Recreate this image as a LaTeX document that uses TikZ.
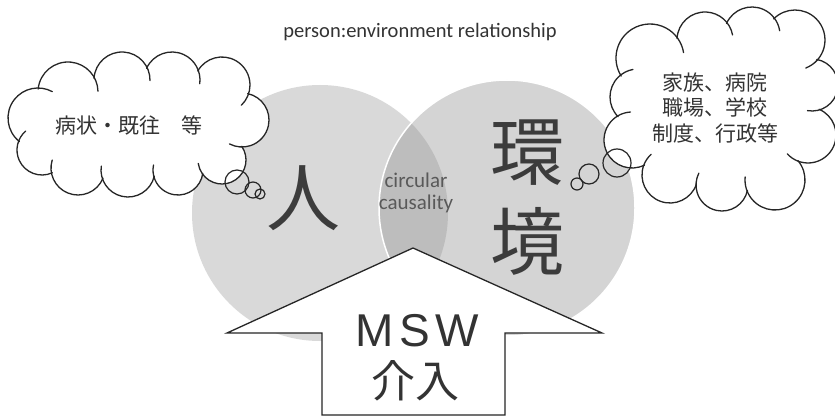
\documentclass[tikz,border=0pt]{standalone}
\usepackage{fontspec}
\setmainfont{Carlito}
\newfontfamily\jpfont{Noto Sans CJK JP}
\newfontfamily\mswfont{Liberation Sans}[LetterSpace=12]
\definecolor{inkgray}{HTML}{333333}
\definecolor{bigchar}{HTML}{3C3C3C}
\definecolor{circL}{HTML}{D9D9D9}
\definecolor{circR}{HTML}{D4D4D4}
\definecolor{lens}{HTML}{BDBDBD}
\tikzset{
  cloudline/.style={draw=black!85, line width=1.3pt, line cap=round},
  bubble/.style={draw=black!85, line width=1.2pt},
  cloudtext/.style={font=\jpfont\fontsize{21}{25.5}\selectfont, text=inkgray, align=center},
  bigtext/.style={font=\jpfont\fontsize{74}{80}\selectfont, text=bigchar, inner sep=0pt},
}
\def\ovS{2}\def\ovE{28}
\newcommand\puffarc[9]{%
  \pgfmathsetmacro\cldP{veclen(#4-#1,#5-#2)}%
  \pgfmathsetmacro\clphP{atan2(#5-#2,#4-#1)}%
  \pgfmathsetmacro\clgP{acos(max(-1,min(1,(\cldP*\cldP+#3*#3-#6*#6)/(2*\cldP*#3))))}%
  \pgfmathsetmacro\cldN{veclen(#7-#1,#8-#2)}%
  \pgfmathsetmacro\clphN{atan2(#8-#2,#7-#1)}%
  \pgfmathsetmacro\clgN{acos(max(-1,min(1,(\cldN*\cldN+#3*#3-#9*#9)/(2*\cldN*#3))))}%
  \pgfmathsetmacro\clsA{\clphP+\clgP-\ovS}%
  \pgfmathsetmacro\cleA{\clphN-\clgN+\ovE}%
  \pgfmathsetmacro\cleA{\cleA<\clsA ? \cleA+360 : \cleA}%
  \draw[cloudline] (#1,#2) ++(\clsA:#3) arc[start angle=\clsA, end angle=\cleA, radius=#3];%
}
\newcommand\cloudfill[6]{%
  \foreach \k in {1,...,#4}{%
    \pgfmathtruncatemacro\clkn{mod(\k,#4)}%
    \pgfmathsetmacro\clax{#1[\k-1]}\pgfmathsetmacro\clay{#2[\k-1]}\pgfmathsetmacro\clar{#3[\k-1]}%
    \pgfmathsetmacro\clbx{#1[\clkn]}\pgfmathsetmacro\clby{#2[\clkn]}%
    \fill[white] (\clax,\clay) circle[radius=\clar];
    \fill[white] (#5,#6) -- (\clax,\clay) -- (\clbx,\clby) -- cycle;
  }}
\newcommand\cloudlines[4]{%
  \foreach \k in {1,...,#4}{%
    \pgfmathtruncatemacro\clkp{mod(\k-2+#4,#4)}%
    \pgfmathtruncatemacro\clkn{mod(\k,#4)}%
    \pgfmathsetmacro\clax{#1[\k-1]}\pgfmathsetmacro\clay{#2[\k-1]}\pgfmathsetmacro\clar{#3[\k-1]}%
    \pgfmathsetmacro\clpx{#1[\clkp]}\pgfmathsetmacro\clpy{#2[\clkp]}\pgfmathsetmacro\clpr{#3[\clkp]}%
    \pgfmathsetmacro\clnx{#1[\clkn]}\pgfmathsetmacro\clny{#2[\clkn]}\pgfmathsetmacro\clnr{#3[\clkn]}%
    \puffarc{\clax}{\clay}{\clar}{\clpx}{\clpy}{\clpr}{\clnx}{\clny}{\clnr}%
  }}
% left cloud puffs (screen clockwise)
\def\LX{{68,122,172,222,242,222,178,128,78,42,38}}
\def\LY{{92,80,80,85,120,160,170,170,168,150,118}}
\def\LR{{30,28,28,28,27,24,25,27,27,25,30}}
% right cloud puffs
\def\RX{{650,705,752,795,812,808,775,722,670,632,638}}
\def\RY{{58,40,35,40,85,135,180,185,175,140,97}}
\def\RR{{34,28,28,30,26,28,30,26,28,28,28}}
\begin{document}
\begin{tikzpicture}[x=1pt,y=-1pt]
\path[use as bounding box, fill=white] (0,0) rectangle (835,417);
% circles
\fill[circL] (320,213) circle[radius=128];
\fill[circR] (507,208) circle[radius=128];
\begin{scope}
  \clip (320,213) circle[radius=128];
  \fill[lens] (507,208) circle[radius=128];
\end{scope}
\draw[white, line width=1.5pt] (507,208) circle[radius=128];
% title
\node[font=\fontsize{20.5}{24}\selectfont, text=inkgray] (title) at (420,32) {person:environment relationship};
% clouds
\cloudfill{\LX}{\LY}{\LR}{11}{139}{125}
\cloudlines{\LX}{\LY}{\LR}{11}
\cloudfill{\RX}{\RY}{\RR}{11}{722}{110}
\cloudlines{\RX}{\RY}{\RR}{11}
\node[cloudtext] (tL) at (129,125) {病状・既往　等};
\node[cloudtext] (tR) at (715,108) {家族、病院\\職場、学校\\制度、行政等};
% bubbles left
\draw[bubble] (237,182) circle[radius=12];
\draw[bubble] (253,190) circle[radius=8];
\draw[bubble] (260,194) circle[radius=5];
% bubbles right
\draw[bubble] (617,163) circle[radius=14];
\draw[bubble] (589,174) circle[radius=10];
\draw[bubble] (577,184) circle[radius=6];
% big characters
\node[bigtext] (hito) at (303,198) {人};
\node[bigtext] (kan) at (527,153) {環};
\node[bigtext] (kyo) at (527,241) {境};
\node[font=\fontsize{21}{24}\selectfont, text=black!65, align=center] (circ) at (416,193) {circular\\[-2pt]causality};
% arrow
\draw[black!85, fill=white, line width=1.3pt, line join=miter]
  (413,248) -- (227,333) -- (322,333) -- (322,415) -- (505,415) -- (505,333) -- (602,333) -- cycle;
\node[font=\mswfont\fontsize{46}{46}\selectfont, text=inkgray] (msw) at (417,331) {MSW};
\node[font=\jpfont\fontsize{44}{44}\selectfont, text=inkgray] (kainyu) at (415,381) {介入};
\end{tikzpicture}
\end{document}
